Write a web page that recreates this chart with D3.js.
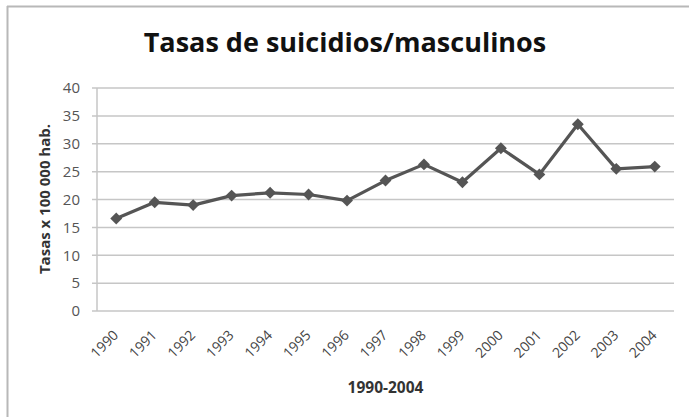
<!DOCTYPE html>
<html><head><meta charset="utf-8">
<script src="https://cdn.jsdelivr.net/npm/d3@7"></script>
<style>body{margin:0;background:#fff}svg{display:block}</style>
</head><body>
<svg id="c" width="689" height="417"></svg>
<script>
const years = ["1990","1991","1992","1993","1994","1995","1996","1997","1998","1999","2000","2001","2002","2003","2004"];
const rates = [16.6, 19.5, 19.0, 20.7, 21.2, 20.9, 19.8, 23.4, 26.3, 23.1, 29.2, 24.5, 33.5, 25.5, 25.9];
const yTicks = [0,5,10,15,20,25,30,35,40];
const title = "Tasas de suicidios/masculinos";
const yTitle = "Tasas x 100 000 hab.";
const xTitle = "1990-2004";

const svg = d3.select("#c");
const font = "'Open Sans', 'DejaVu Sans', sans-serif";
// outer frame (left & top edges visible)
svg.append("line").attr("x1",7.5).attr("x2",7.5).attr("y1",6).attr("y2",417).attr("stroke","#b8b8b8").attr("stroke-width",2);
svg.append("line").attr("x1",7).attr("x2",689).attr("y1",6.5).attr("y2",6.5).attr("stroke","#b8b8b8").attr("stroke-width",2);

const L=97, R=674, T=88, B=311;
const x = d3.scaleBand().domain(years).range([L,R]);
const y = d3.scaleLinear().domain([0,40]).range([B,T]);

// gridlines
svg.append("g").selectAll("line").data(yTicks).join("line")
  .attr("x1",L-5).attr("x2",R).attr("y1",d=>y(d)).attr("y2",d=>y(d))
  .attr("stroke","#c6c6c6").attr("stroke-width",1.5);
// y axis line
svg.append("line").attr("x1",L).attr("x2",L).attr("y1",T).attr("y2",B).attr("stroke","#c6c6c6").attr("stroke-width",1.5);

const yAxis = d3.axisLeft(y).tickValues(yTicks).tickSize(0).tickPadding(17);
const gy = svg.append("g").attr("transform",`translate(${L},0)`).call(yAxis);
gy.select(".domain").remove();
gy.selectAll("text").attr("font-family",font).attr("font-size",15).attr("fill","#555");

const xAxis = d3.axisBottom(x).tickSize(0).tickPadding(0);
const gx = svg.append("g").attr("transform",`translate(0,${B})`).call(xAxis);
gx.select(".domain").remove();
gx.selectAll("text").attr("font-family",font).attr("font-size",14).attr("fill","#444")
  .attr("text-anchor","end").attr("dy",null).attr("y",0)
  .attr("transform","translate(3,25) rotate(-45)");

// line
const line = d3.line().x(d=>x(d.year)+x.bandwidth()/2).y(d=>y(d.v));
const data = years.map((yr,i)=>({year:yr,v:rates[i]}));
svg.append("path").datum(data).attr("d",line).attr("fill","none").attr("stroke","#555").attr("stroke-width",3.2).attr("stroke-linejoin","round");
svg.append("g").selectAll("path").data(data).join("path")
  .attr("d", d3.symbol().type(d3.symbolDiamond2).size(90))
  .attr("transform",d=>`translate(${x(d.year)+x.bandwidth()/2},${y(d.v)})`)
  .attr("fill","#555");

// titles
svg.append("text").attr("x",345).attr("y",52).attr("text-anchor","middle")
  .attr("font-family",font).attr("font-weight","bold").attr("font-size",27).attr("fill","#111").text(title);
svg.append("text").attr("transform","translate(50,199) rotate(-90)").attr("text-anchor","middle")
  .attr("font-family",font).attr("font-weight","bold").attr("font-size",15).attr("fill","#333").text(yTitle);
svg.append("text").attr("x",(L+R)/2).attr("y",393).attr("text-anchor","middle")
  .attr("font-family",font).attr("font-weight","bold").attr("font-size",15.5).attr("fill","#333").text(xTitle);
</script>
</body></html>
